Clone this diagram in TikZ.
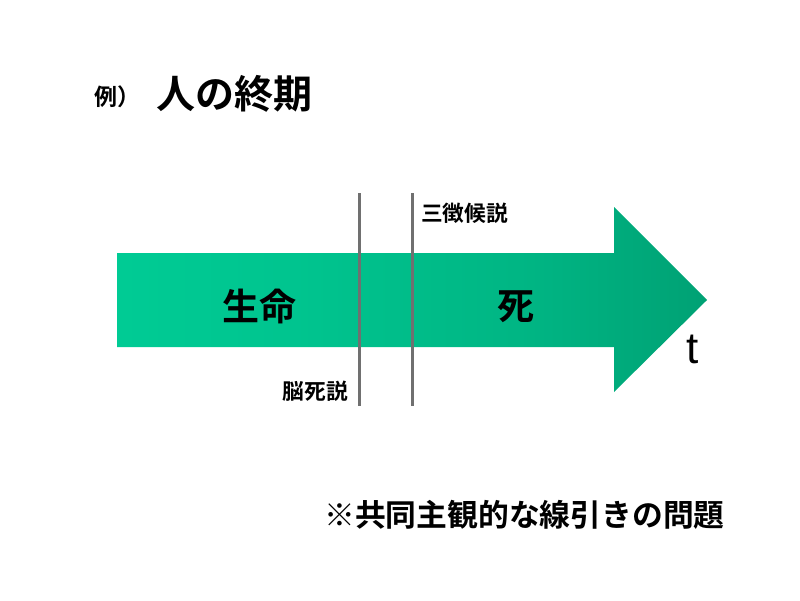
\documentclass[tikz,border=0pt]{standalone}
\usepackage{fontspec}
\setmainfont{Liberation Sans}
\newfontfamily\cjk{Noto Sans CJK JP}[BoldFont={Noto Sans CJK JP Bold}]
\pgfdeclarehorizontalshading{arrowgrad}{100bp}{
  rgb(0bp)=(0,0.84,0.62);
  rgb(40bp)=(0,0.77,0.56);
  rgb(60bp)=(0,0.71,0.515);
  rgb(85bp)=(0,0.58,0.415);
  rgb(100bp)=(0,0.47,0.33)}
\definecolor{divider}{RGB}{112,112,112}
\tikzset{
  jp/.style={font=\cjk\bfseries\fontsize{#1}{#1}\selectfont, inner sep=0pt, text=black},
  divline/.style={draw=divider, line width=3pt}
}
\begin{document}
\begin{tikzpicture}[x=1pt,y=-1pt]
\useasboundingbox (0,0) rectangle (800,600);
% arrow
\shade[shading=arrowgrad]
  (117,253) -- (614,253) -- (614,207) -- (707,300) -- (614,392) -- (614,347) -- (117,347) -- cycle;
% dividers
\coordinate (b1) at (359,193);
\coordinate (e1) at (359,406);
\coordinate (b2) at (412,193);
\coordinate (e2) at (412,406);
\draw[divline] (b1) -- (e1);
\draw[divline] (b2) -- (e2);
% texts
\node[jp=23, anchor=west] (ex) at (94,97) {例）};
\node[jp=39, anchor=west] (title) at (156,94) {人の終期};
\node[jp=21.7, anchor=west] (sanchou) at (421,213) {三徴候説};
\node[jp=21.7, anchor=east] (noushi) at (348,391) {脳死説};
\node[jp=37] (life) at (259,306) {生命};
\node[jp=37] (death) at (516,307) {死};
\node[font=\fontsize{44}{44}\selectfont, inner sep=0pt] (t) at (693,349) {t};
\node[jp=30.8, anchor=west] (note) at (324,515) {※共同主観的な線引きの問題};
\end{tikzpicture}
\end{document}
